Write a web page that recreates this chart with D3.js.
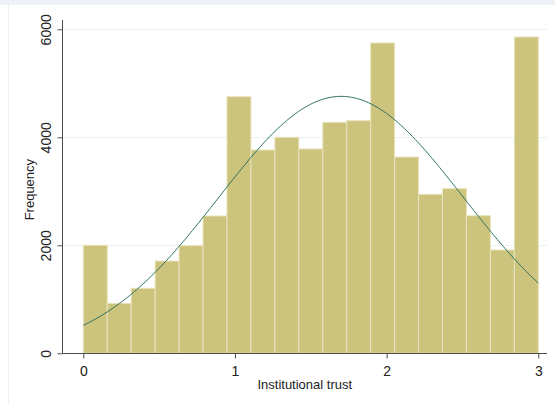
<!DOCTYPE html>
<html>
<head>
<meta charset="utf-8">
<script src="https://cdn.jsdelivr.net/npm/d3@7"></script>
<style>
  html, body { margin: 0; padding: 0; background: #ffffff; }
  svg { display: block; }
  text { font-family: "Liberation Sans", Arial, sans-serif; fill: #222; }
</style>
</head>
<body>
<svg id="chart" width="555" height="403"></svg>
<script>
// Histogram of institutional trust: 19 equal-width bins on [0, 3]
const binStart = 0;
const binEnd = 3;
const frequencies = [2000, 926, 1204, 1709, 1993, 2543, 4752, 3765, 4000, 3784,
                     4278, 4308, 5747, 3635, 2945, 3049, 2548, 1913, 5858];
// Fitted normal overlay
const fitMean = 1.70;
const fitSd = 0.807;
const xTicks = [0, 1, 2, 3];
const yTicks = [0, 2000, 4000, 6000];

const svg = d3.select("#chart");
const W = 555, H = 403;

// light outer frame of the graph region
svg.append("rect").attr("x", 0).attr("y", 0).attr("width", W).attr("height", 5)
  .attr("fill", "#eef1f5");
svg.append("line").attr("x1", 8.5).attr("x2", 8.5).attr("y1", 5).attr("y2", H)
  .attr("stroke", "#eceff2").attr("stroke-width", 1);

const x = d3.scaleLinear().domain([0, 3]).range([83.3, 538.3]);
const y = d3.scaleLinear().domain([0, 6000]).range([353.3, 29.3]);
const axisLeft = 62.5, axisRight = 547, axisTop = 20;

// horizontal gridlines
svg.append("g").selectAll("line").data(yTicks.filter(d => d > 0)).join("line")
  .attr("x1", axisLeft).attr("x2", axisRight)
  .attr("y1", d => Math.round(y(d)) + 0.5).attr("y2", d => Math.round(y(d)) + 0.5)
  .attr("stroke", "#edf1f2").attr("stroke-width", 1);

// bars
const n = frequencies.length;
const bw = (binEnd - binStart) / n;
const bins = frequencies.map((v, i) => ({ x0: binStart + i * bw, x1: binStart + (i + 1) * bw, v }));
svg.append("g").selectAll("rect").data(bins).join("rect")
  .attr("x", d => x(d.x0))
  .attr("width", d => x(d.x1) - x(d.x0))
  .attr("y", d => y(d.v))
  .attr("height", d => y(0) - y(d.v))
  .attr("fill", "#ccc47c")
  .attr("stroke", "#e9e4bd")
  .attr("stroke-width", 1);

// normal density scaled to counts per bin
const total = d3.sum(frequencies);
const scaleK = total * bw;
const pts = d3.range(0, 3.0001, 0.01).map(t =>
  [t, scaleK * Math.exp(-0.5 * ((t - fitMean) / fitSd) ** 2) / (fitSd * Math.sqrt(2 * Math.PI))]);
svg.append("path").datum(pts)
  .attr("d", d3.line().x(d => x(d[0])).y(d => y(d[1])))
  .attr("fill", "none")
  .attr("stroke", "#2b6f62")
  .attr("stroke-width", 1);

// axes
const axisColor = "#4a4a4a";
svg.append("line").attr("x1", axisLeft).attr("x2", axisLeft)
  .attr("y1", axisTop).attr("y2", y(0)).attr("stroke", axisColor);
svg.append("line").attr("x1", axisLeft).attr("x2", axisRight)
  .attr("y1", Math.round(y(0)) + 0.5).attr("y2", Math.round(y(0)) + 0.5).attr("stroke", axisColor);

const yAxis = d3.axisLeft(y).tickValues(yTicks).tickSize(5).tickFormat(d3.format("d"));
const gy = svg.append("g").attr("transform", `translate(${axisLeft},0)`).call(yAxis);
gy.select(".domain").remove();
gy.selectAll(".tick line").attr("stroke", axisColor);
gy.selectAll(".tick text")
  .attr("x", null).attr("dy", null)
  .attr("text-anchor", "middle")
  .attr("transform", "translate(-11.5,0) rotate(-90)")
  .style("font-size", "14px")
  .style("font-family", "Liberation Sans, Arial, sans-serif")
  .attr("fill", "#222");

const xAxis = d3.axisBottom(x).tickValues(xTicks).tickSize(5).tickFormat(d3.format("d"));
const gx = svg.append("g").attr("transform", `translate(0,${Math.round(y(0)) + 0.5})`).call(xAxis);
gx.select(".domain").remove();
gx.selectAll(".tick line").attr("stroke", axisColor);
gx.selectAll(".tick text")
  .attr("y", 22).attr("dy", null)
  .style("font-size", "14px")
  .style("font-family", "Liberation Sans, Arial, sans-serif")
  .attr("fill", "#222");

// axis titles
svg.append("text")
  .attr("x", (axisLeft + axisRight) / 2).attr("y", 389)
  .attr("text-anchor", "middle")
  .style("font-size", "13px")
  .text("Institutional trust");
svg.append("text")
  .attr("transform", `translate(33.5,${(axisTop + y(0)) / 2 + 3}) rotate(-90)`)
  .attr("text-anchor", "middle")
  .style("font-size", "13px")
  .text("Frequency");
</script>
</body>
</html>
